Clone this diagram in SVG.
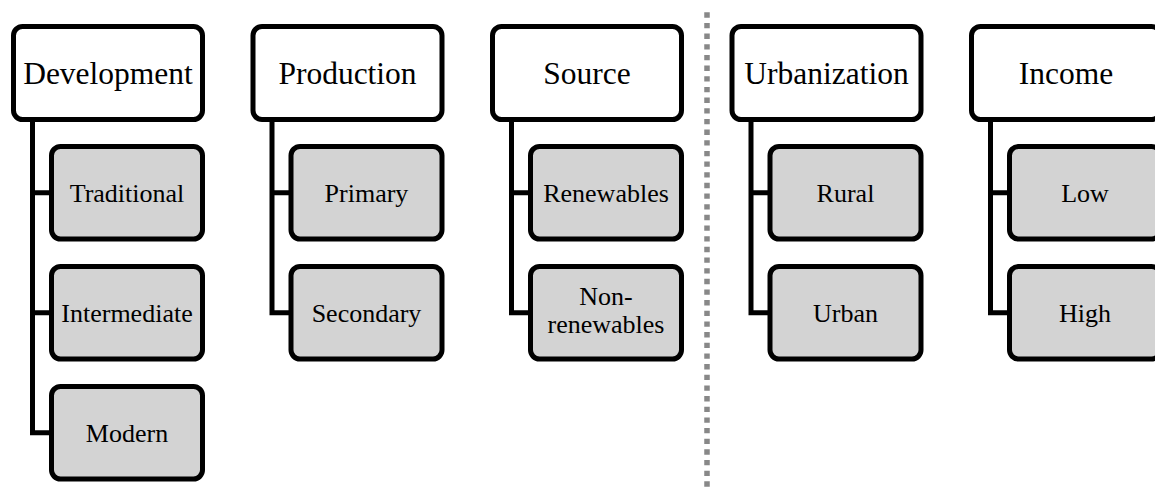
<svg xmlns="http://www.w3.org/2000/svg" width="1155" height="487" viewBox="0 0 1155 487">
<style>
.p{fill:#fff;stroke:#000;stroke-width:5}
.c{fill:#d3d3d3;stroke:#000;stroke-width:5}
.con{fill:none;stroke:#000;stroke-width:5;stroke-linejoin:miter}
.tp{font-family:"Liberation Serif","Times New Roman",serif;font-size:31.5px;text-anchor:middle;fill:#000}
.tc{font-family:"Liberation Serif","Times New Roman",serif;font-size:26px;text-anchor:middle;fill:#000}
.div{stroke:#888;stroke-width:5.5;stroke-dasharray:5.33 5.33;fill:none}
</style>
<rect width="1155" height="487" fill="#fff"/>
<g id="connectors">
<path class="con" d="M32.5,122 V432.75 H51.5 M32.5,192.75 H51.5 M32.5,312.75 H51.5"/>
<path class="con" d="M272,122 V312.75 H291 M272,192.75 H291"/>
<path class="con" d="M511.5,122 V312.75 H530.5 M511.5,192.75 H530.5"/>
<path class="con" d="M751,122 V312.75 H770 M751,192.75 H770"/>
<path class="con" d="M990.5,122 V312.75 H1009.5 M990.5,192.75 H1009.5"/>
</g>
<line id="divider" class="div" x1="707" y1="12.3" x2="707" y2="487"/>
<g id="development">
<rect class="p" x="13.5" y="26.5" width="189" height="93" rx="9"/>
<text class="tp" x="108" y="84">Development</text>
</g>
<g id="traditional">
<rect class="c" x="51.5" y="146.5" width="151" height="92.5" rx="9"/>
<text class="tc" x="127" y="202">Traditional</text>
</g>
<g id="intermediate">
<rect class="c" x="51.5" y="266.5" width="151" height="92.5" rx="9"/>
<text class="tc" x="127" y="322">Intermediate</text>
</g>
<g id="modern">
<rect class="c" x="51.5" y="386.5" width="151" height="92.5" rx="9"/>
<text class="tc" x="127" y="442">Modern</text>
</g>
<g id="production">
<rect class="p" x="253" y="26.5" width="189" height="93" rx="9"/>
<text class="tp" x="347.5" y="84">Production</text>
</g>
<g id="primary">
<rect class="c" x="291" y="146.5" width="151" height="92.5" rx="9"/>
<text class="tc" x="366.5" y="202">Primary</text>
</g>
<g id="secondary">
<rect class="c" x="291" y="266.5" width="151" height="92.5" rx="9"/>
<text class="tc" x="366.5" y="322">Secondary</text>
</g>
<g id="source">
<rect class="p" x="492.5" y="26.5" width="189" height="93" rx="9"/>
<text class="tp" x="587" y="84">Source</text>
</g>
<g id="renewables">
<rect class="c" x="530.5" y="146.5" width="151" height="92.5" rx="9"/>
<text class="tc" x="606" y="202">Renewables</text>
</g>
<g id="nonrenewables">
<rect class="c" x="530.5" y="266.5" width="151" height="92.5" rx="9"/>
<text class="tc" x="606" y="305">Non-</text>
<text class="tc" x="606" y="333">renewables</text>
</g>
<g id="urbanization">
<rect class="p" x="732" y="26.5" width="189" height="93" rx="9"/>
<text class="tp" x="826.5" y="84">Urbanization</text>
</g>
<g id="rural">
<rect class="c" x="770" y="146.5" width="151" height="92.5" rx="9"/>
<text class="tc" x="845.5" y="202">Rural</text>
</g>
<g id="urban">
<rect class="c" x="770" y="266.5" width="151" height="92.5" rx="9"/>
<text class="tc" x="845.5" y="322">Urban</text>
</g>
<g id="income">
<rect class="p" x="971.5" y="26.5" width="189" height="93" rx="9"/>
<text class="tp" x="1066" y="84">Income</text>
</g>
<g id="low">
<rect class="c" x="1009.5" y="146.5" width="151" height="92.5" rx="9"/>
<text class="tc" x="1085" y="202">Low</text>
</g>
<g id="high">
<rect class="c" x="1009.5" y="266.5" width="151" height="92.5" rx="9"/>
<text class="tc" x="1085" y="322">High</text>
</g>
</svg>
